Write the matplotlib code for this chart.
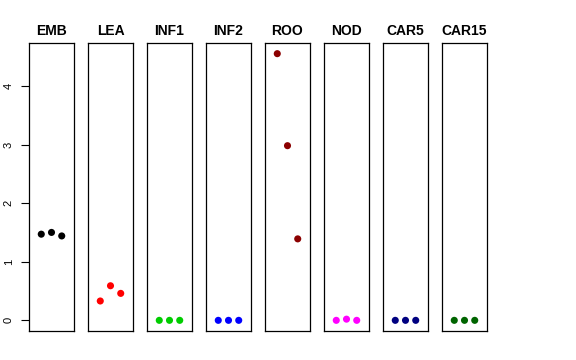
import matplotlib
matplotlib.use("Agg")
import matplotlib.pyplot as plt

plt.rcParams['font.family'] = ['Liberation Sans', 'DejaVu Sans']

groups = ["EMB", "LEA", "INF1", "INF2", "ROO", "NOD", "CAR5", "CAR15"]
colors = ["black", "red", "#00CD00", "blue", "#8B0000", "magenta", "#000080", "#006400"]
values = {
    "EMB": [1.47, 1.50, 1.44],
    "LEA": [0.33, 0.59, 0.46],
    "INF1": [0.0, 0.0, 0.0],
    "INF2": [0.0, 0.0, 0.0],
    "ROO": [4.55, 2.98, 1.39],
    "NOD": [0.0, 0.02, 0.0],
    "CAR5": [0.0, 0.0, 0.0],
    "CAR15": [0.0, 0.0, 0.0],
}
yticks = [0, 1, 2, 3, 4]

W, H = 576, 360
fig = plt.figure(figsize=(W / 100, H / 100), dpi=100)

ymax = max(max(v) for v in values.values())
pad = 0.04 * ymax
ylim = (-pad, ymax + pad)

left0 = 29
pw = 45
step = 59.0
top, bottom = 43, 331

for i, g in enumerate(groups):
    x0 = left0 + i * step
    ax = fig.add_axes([x0 / W, 1 - bottom / H, pw / W, (bottom - top) / H])
    xs = [1, 2, 3]
    ax.scatter(xs, values[g], s=26, color=colors[i], edgecolors='none', zorder=3, clip_on=False)
    ax.set_xlim(-0.2, 4.2)
    ax.set_ylim(*ylim)
    ax.set_xticks([])
    for sp in ax.spines.values():
        sp.set_linewidth(0.9)
        sp.set_color('black')
    ax.set_title(g, fontsize=10, fontweight='bold', pad=6)
    if i == 0:
        ax.set_yticks(yticks)
        ax.set_yticklabels([str(t) for t in yticks], rotation=90, va='center', fontsize=8)
        ax.tick_params(axis='y', length=6, width=0.8, pad=5)
    else:
        ax.set_yticks([])

fig.savefig("out.png", dpi=100)
